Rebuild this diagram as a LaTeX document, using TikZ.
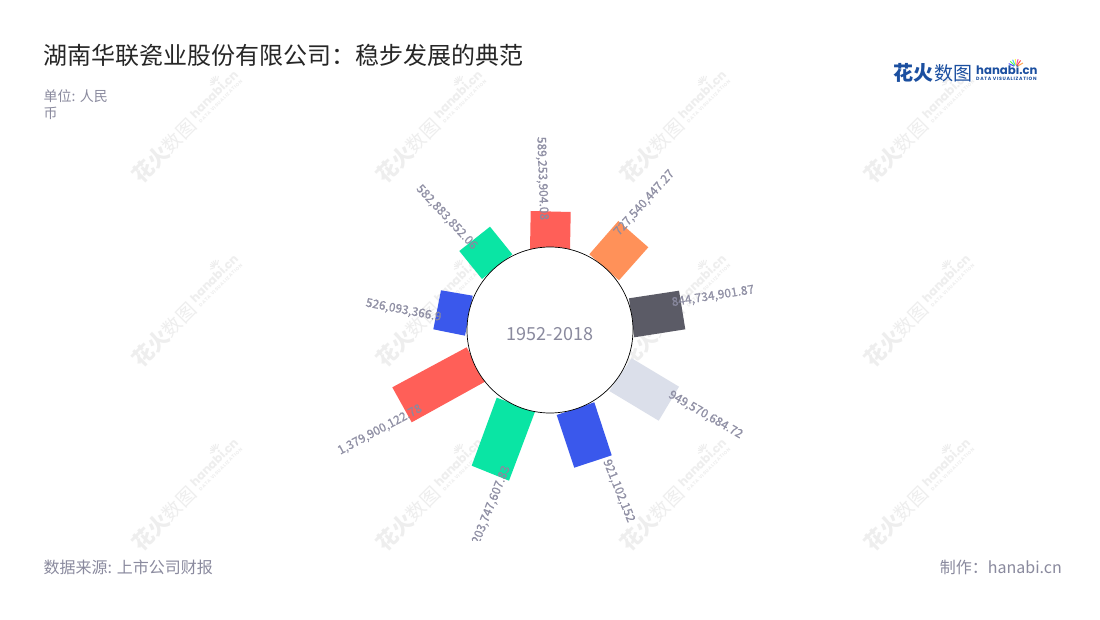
\documentclass[tikz,border=0pt]{standalone}
\usepackage{fontspec}
\setmainfont{Noto Sans CJK SC}
\newfontfamily\medcjk[FakeBold=0.9]{Noto Sans CJK SC}
\newfontfamily\heavycjk[FakeBold=1.5]{Noto Sans CJK SC Bold}
\newfontfamily\latinb{Poppins}
\newfontfamily\latinw[LetterSpace=14]{Poppins}
\definecolor{wmgrey}{HTML}{EEEEEE}
\definecolor{txtgrey}{HTML}{8A8A9E}
\definecolor{lblgrey}{HTML}{8A8AA0}
\definecolor{logoblue}{HTML}{1B4FA0}
\definecolor{cred}{HTML}{FF5F58}
\definecolor{corange}{HTML}{FF9159}
\definecolor{cdark}{HTML}{5B5B66}
\definecolor{clight}{HTML}{DBDFEA}
\definecolor{cblue}{HTML}{3A58EC}
\definecolor{cgreen}{HTML}{0AE5A4}
\newcommand{\fs}[1]{\fontsize{#1}{#1}\selectfont}
\newcommand{\wmark}[3]{%
  \begin{scope}[shift={(#1,#2)},rotate=45,transform shape]
    \node[anchor=west,inner sep=0,text=wmgrey] (#3a) at (0,0) {\bfseries\fs{21}花火};
    \node[anchor=west,inner sep=0,text=wmgrey] (#3b) at (42,0) {\fs{19}数图};
    \node[anchor=west,inner sep=0,text=wmgrey] (#3c) at (84,-5) {\latinb\bfseries\fs{11.8}hanabi.cn};
    \node[anchor=west,inner sep=0,text=wmgrey] (#3d) at (85,5) {\latinw\bfseries\fontsize{4.6}{5}\selectfont DATA VISUALIZATION};
    \foreach \a in {150,125,105,85,65,45,25}
      \draw[wmgrey,line width=1pt] (125,-11) ++(\a:-2) -- ++(\a:-5);
  \end{scope}}
\tikzset{
  x=1pt,y=-1pt,
  lbl/.style={inner sep=0,text=lblgrey,text opacity=.92,font=\medcjk\fs{12}},
  note/.style={inner sep=0,text=txtgrey},
}
\begin{document}
\begin{tikzpicture}
\useasboundingbox (0,0) rectangle (1100,620);
\fill[white] (0,0) rectangle (1100,620);
% watermarks
\wmark{136}{179}{wa}\wmark{380}{179}{wb}\wmark{624}{179}{wc}\wmark{868}{179}{wd}
\wmark{136}{363}{we}\wmark{380}{363}{wf}\wmark{624}{363}{wg}\wmark{868}{363}{wh}
\wmark{136}{547}{wi}\wmark{380}{547}{wj}\wmark{624}{547}{wk}\wmark{868}{547}{wl}
% bars
\fill[cred] (530.7,211) -- (570.7,212) -- (570,250) -- (530,250) -- cycle;
\fill[corange] (618.3,221) -- (648.3,247.3) -- (619,280.3) -- (589.3,254.3) -- cycle;
\fill[cdark] (629,298.3) -- (679,290.7) -- (685.3,329.3) -- (634.3,337.3) -- cycle;
\fill[clight] (631.7,358.3) -- (679,386.7) -- (658.7,420.7) -- (609.3,391) -- cycle;
\fill[cblue] (594.3,402.3) -- (611.7,455.3) -- (574.3,467.7) -- (556.7,415) -- cycle;
\fill[cgreen] (496.7,397.7) -- (535,411.7) -- (509,480.7) -- (471.7,465.7) -- cycle;
\fill[cred] (466.7,347.3) -- (485,381.7) -- (411.7,422.3) -- (392.3,387.3) -- cycle;
\fill[cblue] (441,290.3) -- (472.7,295.7) -- (465,335.7) -- (433.3,329.3) -- cycle;
\fill[cgreen] (490,226.7) -- (512.3,254.3) -- (482,279) -- (459.3,251) -- cycle;
% centre circle
\node[circle,draw=black,line width=.7pt,fill=white,minimum size=166pt,inner sep=0] (hub) at (550,330) {};
\node[note,font=\fs{18}] (years) at (550,334) {1952-2018};
% value labels
\node[lbl,rotate=-88] (l1) at (542,178.5) {589,253,904.08};
\node[lbl,rotate=48] (l2) at (644.5,203) {727,540,447.27};
\node[lbl,rotate=9] (l3) at (713,296.5) {844,734,901.87};
\node[lbl,rotate=-30] (l4) at (705.5,415) {949,570,684.72};
\node[lbl,rotate=-68] (l5) at (618.5,491) {921,102,152};
\begin{scope}
  \clip (440,440) rectangle (540,540);
  \node[lbl,rotate=68] (l6) at (491.5,505) {203,747,607.83};
\end{scope}
\node[lbl,rotate=28] (l7) at (380,430) {1,379,900,122.78};
\node[lbl,rotate=-11] (l8) at (403.5,310.5) {526,093,366.9};
\node[lbl,rotate=-47] (l9) at (446.5,217.5) {582,883,852.06};
% headings
\node[anchor=west,inner sep=0,text=black!85] (title) at (43,55) {\fs{24}湖南华联瓷业股份有限公司：稳步发展的典范};
\node[anchor=west,note] (unit1) at (43.5,96.5) {\fs{14}单位: 人民};
\node[anchor=west,note] (unit2) at (43.5,113.5) {\fs{14}币};
\node[anchor=west,note] (src) at (43.5,567) {\fs{16}数据来源: 上市公司财报};
\node[anchor=east,note] (made) at (1062,567) {\fs{16}制作：hanabi.cn};
% logo
\node[anchor=west,inner sep=0,text=logoblue] (lg1) at (893,73) {\bfseries\fs{20}花火};
\node[anchor=west,inner sep=0,text=logoblue] (lg2) at (934,73) {\fs{19}数图};
\node[anchor=west,inner sep=0,text=logoblue] (lg3) at (976,70) {\latinb\bfseries\fs{11.7}hanabi.cn};
\node[anchor=west,inner sep=0,text=logoblue] (lg4) at (976,78.5) {\latinw\bfseries\fs{4.7}DATA VISUALIZATION};
\foreach \a/\c in {150/orange,125/red,105/magenta,85/yellow,65/cyan,45/green,25/blue}
  \draw[\c!70,line width=1pt] (1016,67) ++(\a:-2) -- ++(\a:-6);
\end{tikzpicture}
\end{document}
